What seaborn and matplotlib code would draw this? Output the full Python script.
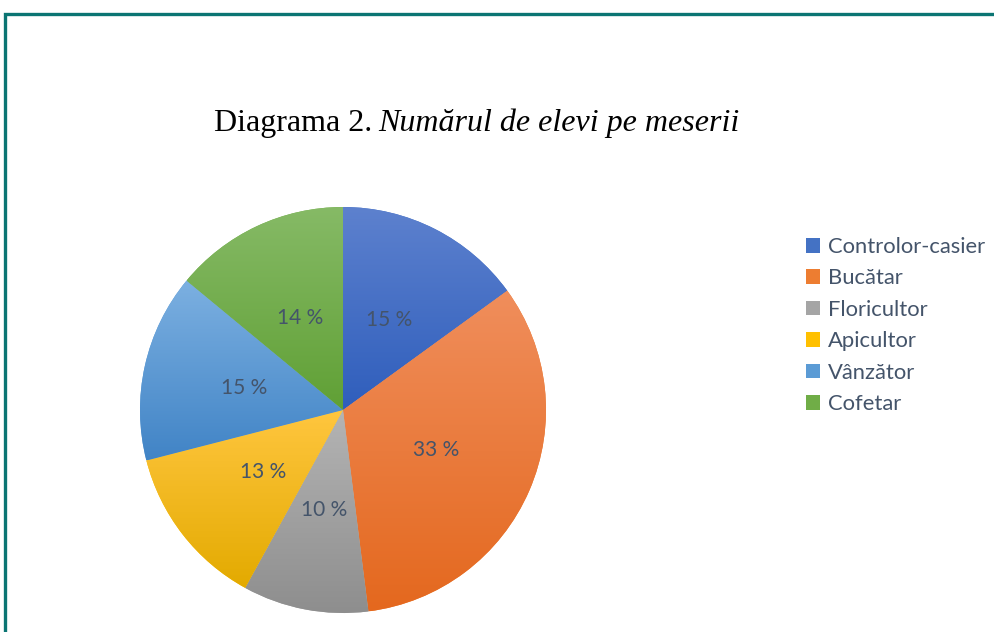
import numpy as np
import matplotlib
matplotlib.use("Agg")
import matplotlib.pyplot as plt
import matplotlib.patches as mpatches
from matplotlib.colors import to_rgb
import seaborn as sns

# ---- data ----
categories = ["Controlor-casier", "Bucătar", "Floricultor", "Apicultor", "Vânzător", "Cofetar"]
percentages = [15, 33, 10, 13, 15, 14]
top_colors = ["#5d81ce", "#f08e5c", "#b4b4b4", "#ffc63f", "#7cb0e1", "#86ba66"]
bottom_colors = ["#2f5ebc", "#e4681e", "#8e8e8e", "#e3aa00", "#4184c6", "#60a035"]
mid_colors = ["#4472C4", "#ED7D31", "#A5A5A5", "#FFC000", "#5B9BD5", "#70AD47"]
title_regular = "Diagrama 2."
title_italic = "Numărul de elevi pe meserii"

sns.set_theme(style="white")
plt.rcParams["font.family"] = ["Lato", "DejaVu Sans"]

W, H = 995, 632
fig = plt.figure(figsize=(W / 100, H / 100), dpi=100)
fig.patch.set_facecolor("white")

# pie axes: centre (343,410) px, radius 203 px
cx, cy, r = 343, 410, 203
ax = fig.add_axes([(cx - r) / W, (H - cy - r) / H, 2 * r / W, 2 * r / H])
text_col = "#44546A"
wedges, texts, autotexts = ax.pie(
    percentages, colors=mid_colors, startangle=90, counterclock=False,
    autopct=lambda p: f"{p:.0f} %", pctdistance=0.5,
    wedgeprops=dict(linewidth=0),
    textprops=dict(color=text_col, fontsize=15, family=["Lato", "DejaVu Sans"]),
)
for w, ct, cb in zip(wedges, top_colors, bottom_colors):
    ext = w.get_path().get_extents()
    t = np.linspace(0, 1, 256)[:, None]
    c0 = np.array(to_rgb(cb)); c1 = np.array(to_rgb(ct))
    grad = (c0[None, :] * (1 - t) + c1[None, :] * t)[:, None, :]
    im = ax.imshow(grad, extent=[ext.x0, ext.x1, ext.y0, ext.y1], origin="lower",
                   aspect="auto", zorder=w.get_zorder() + 0.1, interpolation="bilinear")
    im.set_clip_path(w)
for a in autotexts:
    a.set_zorder(5)
ax.set_xlim(-1, 1)
ax.set_ylim(-1, 1)
ax.set_aspect("equal")
ax.axis("off")

# legend
handles = [mpatches.Patch(facecolor=c, edgecolor="none") for c in mid_colors]
leg = fig.legend(handles, categories, loc="upper left",
                 bbox_to_anchor=(806 / W, 1 - 237 / H), frameon=False,
                 fontsize=15.8, handlelength=0.64, handleheight=0.64,
                 handletextpad=0.37, labelspacing=0.52, borderpad=0, borderaxespad=0)
for txt in leg.get_texts():
    txt.set_color(text_col)

# title (mixed regular / italic)
ty = 1 - 131 / H
t1 = fig.text(0, ty, title_regular, fontsize=23, family="Liberation Serif", va="baseline", color="black")
t2 = fig.text(0, ty, title_italic, fontsize=23, family="Liberation Serif", style="italic", va="baseline", color="black")
fig.canvas.draw()
r_ = fig.canvas.get_renderer()
w1 = t1.get_window_extent(r_).width
w2 = t2.get_window_extent(r_).width
gap = 6
total = w1 + gap + w2
start = 477 - total / 2
t1.set_x(start / W)
t2.set_x((start + w1 + gap) / W)

# outer teal border (right/bottom off canvas)
border = mpatches.Rectangle((5 / W, -0.1), 2.0, 1 - 14 / H + 0.1, transform=fig.transFigure,
                            fill=False, edgecolor="#0b7573", linewidth=2.4, clip_on=False)
fig.patches.append(border)

fig.savefig("out.png", dpi=100)
